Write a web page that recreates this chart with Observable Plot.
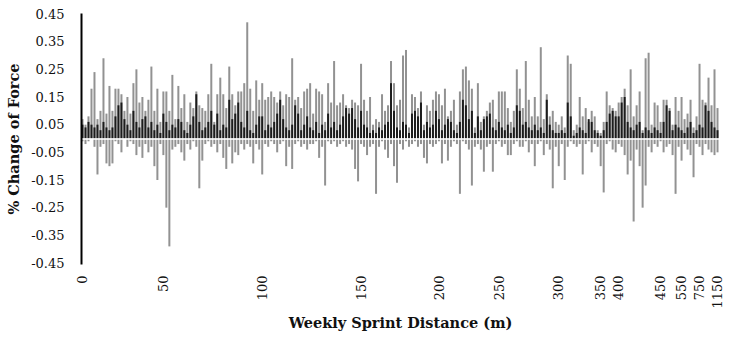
<!DOCTYPE html>
<html>
<head>
<meta charset="utf-8">
<script src="https://cdn.jsdelivr.net/npm/d3@7"></script>
<script src="https://cdn.jsdelivr.net/npm/@observablehq/plot@0.6"></script>
<style>
  html, body { margin: 0; padding: 0; background: #fff; }
  #chart { width: 731px; height: 339px; }
</style>
</head>
<body>
<div id="chart"></div>
<script>
// Positive % change of force (grey bars), one per weekly sprint distance bar slot
const gains = [
  0.07,0.05,0.08,0.18,0.24,0.07,0.10,0.29,0.09,0.19,
  0.10,0.18,0.18,0.16,0.10,0.15,0.09,0.20,0.25,0.13,
  0.15,0.10,0.14,0.26,0.10,0.18,0.06,0.17,0.17,0.10,
  0.23,0.07,0.19,0.11,0.16,0.06,0.13,0.11,0.17,0.12,
  0.11,0.10,0.16,0.27,0.06,0.16,0.22,0.16,0.11,0.26,
  0.16,0.12,0.17,0.17,0.20,0.42,0.18,0.10,0.21,0.14,
  0.20,0.14,0.15,0.17,0.15,0.13,0.17,0.12,0.16,0.15,
  0.29,0.14,0.15,0.11,0.17,0.18,0.20,0.09,0.18,0.17,
  0.16,0.06,0.20,0.13,0.28,0.12,0.13,0.16,0.12,0.11,
  0.14,0.13,0.12,0.27,0.14,0.10,0.15,0.05,0.07,0.06,
  0.16,0.10,0.12,0.28,0.20,0.12,0.14,0.30,0.32,0.04,
  0.16,0.15,0.11,0.17,0.05,0.12,0.10,0.14,0.17,0.16,
  0.12,0.18,0.08,0.10,0.14,0.05,0.17,0.25,0.26,0.21,
  0.18,0.04,0.20,0.06,0.08,0.10,0.13,0.14,0.07,0.17,
  0.17,0.17,0.11,0.06,0.10,0.25,0.18,0.11,0.28,0.14,
  0.08,0.15,0.08,0.33,0.07,0.16,0.08,0.10,0.06,0.05,
  0.08,0.04,0.30,0.27,0.03,0.05,0.15,0.08,0.11,0.06,
  0.10,0.08,0.03,0.02,0.06,0.17,0.12,0.11,0.10,0.13,
  0.15,0.18,0.12,0.25,0.08,0.12,0.17,0.03,0.29,0.31,
  0.05,0.13,0.12,0.06,0.14,0.14,0.11,0.05,0.15,0.10,
  0.15,0.07,0.09,0.14,0.04,0.08,0.27,0.14,0.13,0.22,
  0.12,0.25,0.11
];
// Negative % change of force (grey bars)
const losses = [
  -0.01,-0.02,-0.01,0,-0.03,-0.13,-0.03,-0.02,-0.09,-0.10,
  -0.09,-0.01,-0.02,-0.05,0,-0.03,-0.01,-0.02,-0.06,-0.03,
  -0.07,-0.02,-0.05,-0.03,-0.10,-0.15,-0.02,-0.06,-0.25,-0.39,
  -0.04,-0.03,-0.02,-0.05,-0.08,-0.02,-0.04,-0.01,-0.03,-0.18,
  -0.08,-0.02,-0.01,-0.03,-0.02,-0.05,-0.02,-0.07,-0.11,-0.03,
  -0.09,-0.05,-0.06,-0.02,-0.04,-0.02,-0.03,-0.09,-0.02,-0.04,
  -0.13,-0.02,-0.03,-0.01,-0.02,-0.05,-0.02,-0.01,-0.10,-0.03,
  -0.11,-0.02,-0.01,-0.03,-0.02,-0.04,-0.02,-0.02,-0.01,-0.07,
  -0.03,-0.17,-0.01,-0.02,-0.01,-0.03,-0.02,-0.01,-0.03,-0.02,
  -0.04,-0.11,-0.155,-0.02,-0.03,-0.06,-0.03,-0.02,-0.20,-0.03,
  -0.01,-0.04,-0.07,-0.02,-0.10,-0.16,-0.02,-0.04,-0.01,-0.03,
  -0.02,-0.01,-0.03,-0.02,-0.07,-0.09,-0.02,-0.03,-0.02,-0.01,
  -0.09,-0.02,-0.08,-0.03,-0.01,-0.02,-0.20,-0.01,-0.02,-0.04,
  -0.17,-0.03,-0.02,-0.04,-0.12,-0.03,-0.02,-0.12,-0.02,-0.01,
  -0.03,-0.02,-0.06,-0.06,-0.02,-0.01,-0.03,-0.03,-0.01,-0.05,
  -0.02,-0.10,-0.02,-0.01,-0.06,-0.02,-0.04,-0.18,-0.03,-0.10,
  -0.02,-0.15,-0.03,-0.01,-0.02,-0.03,-0.02,-0.13,-0.02,-0.01,
  -0.05,-0.02,-0.03,-0.10,-0.195,-0.02,-0.01,-0.04,-0.05,-0.02,
  -0.03,-0.06,-0.13,-0.08,-0.30,-0.04,-0.10,-0.25,-0.17,-0.03,
  -0.05,-0.02,-0.03,-0.01,-0.05,-0.03,-0.02,-0.06,-0.20,-0.03,
  -0.08,-0.02,-0.04,-0.06,-0.14,-0.02,-0.03,-0.06,-0.02,-0.04,
  -0.05,-0.06,-0.05
];
// Shorter dark series drawn in front
const darkGains = [
  0.05,0.04,0.06,0.05,0.04,0.05,0.03,0.06,0.04,0.03,
  0.04,0.08,0.12,0.13,0.07,0.05,0.03,0.10,0.06,0.04,
  0.07,0.08,0.04,0.06,0.03,0.05,0.02,0.09,0.06,0.03,
  0.05,0.04,0.07,0.06,0.03,0.02,0.05,0.08,0.16,0.06,
  0.03,0.04,0.06,0.10,0.05,0.09,0.03,0.05,0.04,0.14,
  0.07,0.09,0.13,0.06,0.04,0.10,0.03,0.02,0.05,0.08,
  0.08,0.03,0.05,0.04,0.06,0.09,0.14,0.07,0.04,0.03,
  0.05,0.12,0.09,0.03,0.05,0.08,0.04,0.03,0.06,0.02,
  0.05,0.03,0.09,0.04,0.06,0.03,0.05,0.08,0.11,0.09,
  0.11,0.07,0.04,0.10,0.05,0.04,0.02,0.03,0.02,0.04,
  0.03,0.05,0.06,0.20,0.10,0.04,0.03,0.06,0.05,0.02,
  0.09,0.10,0.08,0.13,0.03,0.06,0.04,0.05,0.10,0.07,
  0.03,0.05,0.07,0.06,0.03,0.02,0.06,0.14,0.12,0.07,
  0.10,0.02,0.08,0.03,0.07,0.08,0.09,0.04,0.03,0.06,
  0.04,0.03,0.05,0.02,0.04,0.12,0.10,0.05,0.06,0.04,
  0.03,0.05,0.03,0.04,0.02,0.14,0.05,0.03,0.02,0.02,
  0.03,0.02,0.13,0.08,0.01,0.02,0.04,0.03,0.02,0.07,
  0.06,0.03,0.02,0.01,0.03,0.06,0.09,0.10,0.08,0.08,
  0.13,0.15,0.06,0.04,0.03,0.05,0.06,0.02,0.04,0.03,
  0.02,0.04,0.03,0.02,0.06,0.12,0.10,0.03,0.05,0.04,
  0.03,0.02,0.04,0.06,0.02,0.03,0.05,0.04,0.12,0.10,
  0.06,0.04,0.03
];
// Category tick labels (weekly sprint distance, m) and the bar slot they sit under
const tickLabels = ["0","50","100","150","200","250","300","350","400","450","550","750","1150"];
const tickSlots  = [0, 27, 60, 93, 119, 139, 159, 173, 179, 193, 200, 206, 212];
const yTicks = [-0.45,-0.35,-0.25,-0.15,-0.05,0.05,0.15,0.25,0.35,0.45];

const slots = d3.range(gains.length);
const upRows = gains.map((v, i) => ({slot: i, v}));
const downRows = losses.map((v, i) => ({slot: i, v}));
const darkRows = darkGains.map((v, i) => ({slot: i, v}));
const labelBySlot = new Map(tickSlots.map((s, k) => [s, tickLabels[k]]));

const serif = "'DejaVu Serif', 'Liberation Serif', serif";
const grey = "#929292";
const dark = "#1c1c1c";

const chart = Plot.plot({
  width: 731,
  height: 339,
  marginLeft: 81,
  marginRight: 12,
  marginTop: 14,
  marginBottom: 76,
  style: {fontFamily: serif, fontSize: "13px", color: "#111", background: "#fff"},
  x: {type: "band", domain: slots, padding: 0, axis: null},
  y: {domain: [-0.45, 0.45], axis: null},
  marks: [
    Plot.barY(upRows, {x: "slot", y: "v", fill: grey, insetLeft: 0.5, insetRight: 0.5}),
    Plot.barY(downRows, {x: "slot", y: "v", fill: grey, insetLeft: 0.5, insetRight: 0.5}),
    Plot.barY(darkRows, {x: "slot", y: "v", fill: dark, insetLeft: 0.5, insetRight: 0.5}),
    Plot.ruleY([0], {stroke: "#fff", strokeWidth: 1.5}),
    Plot.axisY({ticks: yTicks, tickFormat: d => d.toFixed(2), tickSize: 0, tickPadding: 17, label: null, fontSize: 13}),
    Plot.axisX({ticks: tickSlots, tickFormat: s => labelBySlot.get(s), tickSize: 0, tickPadding: 12, tickRotate: -90, label: null, fontSize: 13}),
    Plot.frame({anchor: "left", stroke: "#000", strokeWidth: 2}),
    Plot.text(["Weekly Sprint Distance (m)"], {frameAnchor: "bottom", dy: 60, lineAnchor: "middle", textAnchor: "middle", fontWeight: "bold", fontSize: 14.5}),
    Plot.text(["% Change of Force"], {frameAnchor: "left", dx: -67, rotate: -90, lineAnchor: "middle", textAnchor: "middle", fontWeight: "bold", fontSize: 14.5})
  ]
});
document.getElementById("chart").appendChild(chart);
</script>
</body>
</html>
